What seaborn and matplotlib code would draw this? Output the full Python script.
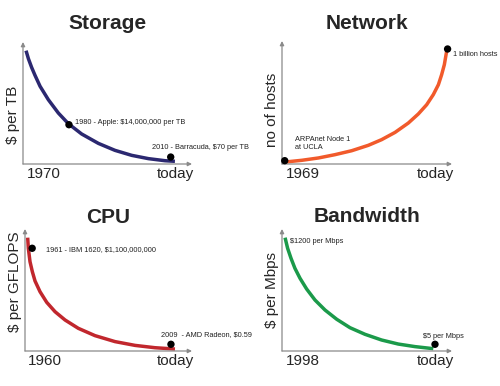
import matplotlib
matplotlib.use("Agg")
import matplotlib.pyplot as plt
import seaborn as sns

sns.set_style("white")
plt.rcParams['font.family'] = ['Liberation Sans', 'DejaVu Sans']

# curve points (0-100 units, origin at the axes corner)
storage_x = [1.8, 3.2, 5.1, 7.1, 10.1, 15.0, 20.9, 26.8, 34.7, 44.6, 54.4, 64.3, 74.2, 84.0, 89.9]
storage_y = [92.9, 86.3, 79.2, 72.7, 63.7, 52.7, 41.8, 33.1, 24.6, 16.9, 11.2, 7.1, 4.4, 2.7, 2.2]
storage_dot_x = [27.2, 87.4]
storage_dot_y = [32.2, 5.7]

network_x = [1.8, 11.6, 21.4, 31.2, 41.0, 50.8, 58.6, 66.5, 74.3, 80.2, 85.1, 89.0,
             92.0, 93.9, 95.5, 96.5, 97.3]
network_y = [1.6, 3.0, 4.9, 7.6, 10.8, 15.2, 19.8, 25.7, 33.3, 40.7, 48.2, 56.4,
             64.5, 72.6, 80.8, 88.9, 94.9]
network_dot_x = [1.6, 97.4]
network_dot_y = [2.7, 93.5]

cpu_x = [1.6, 2.0, 3.0, 4.4, 6.0, 9.0, 13.0, 18.0, 24.0, 31.9, 41.9, 53.9, 65.9, 77.8, 89.8]
cpu_y = [92.9, 84.2, 73.2, 65.0, 57.4, 48.6, 39.9, 32.2, 25.4, 18.6, 12.6, 7.7, 4.6, 2.7, 1.6]
cpu_dot_x = [4.3, 87.4]
cpu_dot_y = [84.2, 5.5]

bw_x = [1.8, 3.3, 5.3, 7.6, 10.6, 14.5, 19.4, 25.3, 32.2, 40.0, 48.8, 58.6, 68.4, 78.2, 89.0]
bw_y = [92.9, 84.2, 76.0, 67.8, 59.6, 50.8, 41.8, 33.6, 26.0, 19.1, 13.7, 9.0, 5.7, 3.6, 1.9]
bw_dot_x = [90.0]
bw_dot_y = [5.5]

titles = ['Storage', 'Network', 'CPU', 'Bandwidth']
ylabels = ['$ per TB', 'no of hosts', '$ per GFLOPS', '$ per Mbps']
start_labels = ['1970', '1969', '1960', '1998']
colors = ['#2b2870', '#f15a2b', '#c1272d', '#1b9a4a']

# (text, x, y)
notes = [
    [('1980 - Apple: $14,000,000 per TB', 30.8, 33.9),
     ('2010 - Barracuda, $70 per TB', 76.1, 13.4)],
    [('1 billion hosts', 100.6, 89.0),
     ('ARPAnet Node 1\nat UCLA', 7.5, 17.0)],
    [('1961 - IBM 1620, $1,100,000,000', 12.8, 83.4),
     ('2009  - AMD Radeon, $0.59', 81.7, 13.4)],
    [('$1200 per Mbps', 4.6, 89.9),
     ('$5 per Mbps', 83.0, 11.7)],
]

curves = [(storage_x, storage_y, storage_dot_x, storage_dot_y),
          (network_x, network_y, network_dot_x, network_dot_y),
          (cpu_x, cpu_y, cpu_dot_x, cpu_dot_y),
          (bw_x, bw_y, bw_dot_x, bw_dot_y)]

# axes boxes in pixels: left, origin y, width, height
W, H = 500, 386
boxes = [(23, 164, 169, 122), (282, 164, 170, 123),
         (25, 351, 167, 122), (282, 351, 170, 122)]
ylabel_pos = [40, 44, 57, 50]
title_base = [110.7, 109.8, 104.9, 105.7]

fig = plt.figure(figsize=(5, 3.86), dpi=100)

for i in range(4):
    left, oy, w, h = boxes[i]
    ax = fig.add_axes([left / W, (H - oy) / H, w / W, h / H])
    ax.set_xlim(0, 100)
    ax.set_ylim(0, 100)
    ax.axis('off')

    # axis arrows
    for tip in [(0, 100), (100, 0)]:
        ax.annotate('', xy=tip, xytext=(0, 0), annotation_clip=False,
                    arrowprops=dict(arrowstyle='-|>', color='#8a8a8a', lw=0.9, mutation_scale=6,
                                    shrinkA=0, shrinkB=0))

    cx, cy, dx, dy = curves[i]
    sns.lineplot(x=cx, y=cy, ax=ax, color=colors[i], linewidth=2.5, sort=False,
                 estimator=None, clip_on=False, solid_capstyle='butt', solid_joinstyle='round')
    sns.scatterplot(x=dx, y=dy, ax=ax, color='black', s=28, edgecolor='none',
                    clip_on=False, zorder=5)

    ax.text(50, title_base[i], titles[i], ha='center', va='baseline',
            fontsize=15, fontweight='bold', clip_on=False)
    ax.text(-6, ylabel_pos[i], ylabels[i], rotation=90, ha='center', va='center',
            fontsize=11, clip_on=False)
    ax.text(2, -8.5, start_labels[i], ha='left', va='center', fontsize=11, clip_on=False)
    ax.text(101, -8.5, 'today', ha='right', va='center', fontsize=11, clip_on=False)

    for txt, tx, ty in notes[i]:
        ax.text(tx, ty, txt, ha='left', va='center', fontsize=5.3, color='#222222',
                family=['Liberation Sans Narrow', 'Liberation Sans'], clip_on=False)

fig.savefig('out.png', dpi=100)
